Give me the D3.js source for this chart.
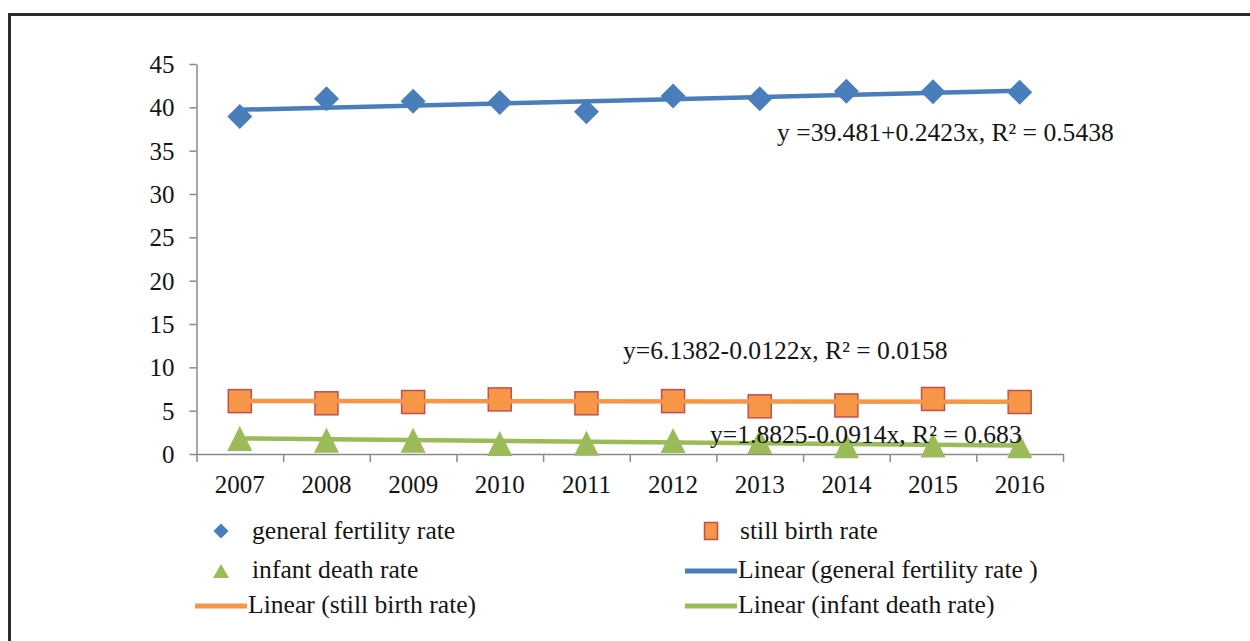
<!DOCTYPE html>
<html>
<head>
<meta charset="utf-8">
<script src="https://cdn.jsdelivr.net/npm/d3@7"></script>
<style>
  html, body { margin: 0; padding: 0; background: #fff; }
  svg { display: block; }
  text { font-family: "Liberation Serif", "Times New Roman", serif; fill: #151515; }
</style>
</head>
<body>
<svg id="chart" width="1250" height="641"></svg>
<script>
// ---- data ----
const years = ["2007","2008","2009","2010","2011","2012","2013","2014","2015","2016"];
const generalFertility = [38.95, 41.0, 40.7, 40.55, 39.5, 41.3, 41.0, 41.85, 41.8, 41.75];
const stillBirth = [6.1, 5.85, 6.0, 6.3, 5.85, 6.1, 5.5, 5.6, 6.35, 6.0];
const infantDeath = [1.8, 1.6, 1.6, 1.2, 1.25, 1.55, 1.45, 0.95, 1.05, 0.95];
const yTicks = [0, 5, 10, 15, 20, 25, 30, 35, 40, 45];
// trend lines: y = a + b*x, x = 1..10
const trendNames = ["general fertility rate", "still birth rate", "infant death rate"];
const trendIntercept = [39.481, 6.1382, 1.8825];
const trendSlope = [0.2423, -0.0122, -0.0914];
const trendLabels = [
  "y =39.481+0.2423x, R\u00B2 = 0.5438",
  "y=6.1382-0.0122x, R\u00B2 = 0.0158",
  "y=1.8825-0.0914x, R\u00B2 = 0.683"
];
const legendLabels = [
  "general fertility rate", "still birth rate",
  "infant death rate", "Linear (general fertility rate )",
  "Linear (still birth rate)", "Linear (infant death rate)"
];

(function () {
// ---- styles ----
const BLUE = "#4a7ebb", ORANGE = "#f79646", ORANGE_STROKE = "#c0504d", GREEN = "#9bbb59";
const AXIS = "#8a8a8a";
const FS_TICK = 25, FS_TEXT = 25.6;

const svg = d3.select("#chart");

// frame
svg.append("path")
  .attr("d", "M9.5,700 L9.5,14.5 L1300,14.5")
  .attr("fill", "none").attr("stroke", "#2b2b2b").attr("stroke-width", 3);

const pLeft = 196.5, pRight = 1063, pTop = 64, pBottom = 454;

const x = d3.scaleBand().domain(years).range([pLeft, pRight]).padding(0);
const xi = d3.scaleLinear().domain([0, years.length]).range([pLeft, pRight]);
const y = d3.scaleLinear().domain([0, 45]).range([pBottom, pTop]);

// y axis
const gy = svg.append("g").attr("transform", `translate(${pLeft},0)`)
  .call(d3.axisLeft(y).tickValues(yTicks).tickSize(7).tickPadding(15).tickSizeOuter(0));
gy.select(".domain").attr("stroke", AXIS).attr("stroke-width", 1.5);
gy.selectAll(".tick line").attr("stroke", AXIS).attr("stroke-width", 1.5);
gy.selectAll(".tick text").attr("font-size", FS_TICK).attr("fill", "#151515")
  .attr("font-family", '"Liberation Serif", serif').attr("dy", "0.34em");

// x axis: boundary ticks
const gx = svg.append("g").attr("transform", `translate(0,${pBottom})`)
  .call(d3.axisBottom(xi).tickValues(d3.range(years.length + 1)).tickFormat("").tickSize(8).tickSizeOuter(0));
gx.select(".domain").attr("stroke", AXIS).attr("stroke-width", 1.5);
gx.selectAll(".tick line").attr("stroke", AXIS).attr("stroke-width", 1.5);
// x axis: category labels
const gxl = svg.append("g").attr("transform", `translate(0,${pBottom})`)
  .call(d3.axisBottom(x).tickSize(0).tickPadding(21));
gxl.select(".domain").remove();
gxl.selectAll(".tick text").attr("font-size", FS_TICK).attr("fill", "#151515")
  .attr("font-family", '"Liberation Serif", serif');

const cx = d => x(d) + x.bandwidth() / 2;

// marker shapes
const diamondPath = (s) => `M0,${-s} L${s},0 L0,${s} L${-s},0 Z`;
const trianglePath = (w, h) => `M0,${-h/2} L${w/2},${h/2} L${-w/2},${h/2} Z`;

const plot = svg.append("g");

// diamonds
plot.selectAll(".gfr").data(generalFertility).join("path")
  .attr("d", diamondPath(12.5))
  .attr("transform", (d, i) => `translate(${cx(years[i])},${y(d)})`)
  .attr("fill", BLUE);

// squares
plot.selectAll(".sbr").data(stillBirth).join("rect")
  .attr("x", (d, i) => cx(years[i]) - 11.5).attr("y", d => y(d) - 11.5)
  .attr("width", 23).attr("height", 23)
  .attr("fill", ORANGE).attr("stroke", ORANGE_STROKE).attr("stroke-width", 1.5);

// triangles
plot.selectAll(".idr").data(infantDeath).join("path")
  .attr("d", trianglePath(25, 25))
  .attr("transform", (d, i) => `translate(${cx(years[i])},${y(d)})`)
  .attr("fill", GREEN);

// trend lines
const trendColors = [BLUE, ORANGE, GREEN];
const line = d3.line().x(d => d[0]).y(d => d[1]);
trendIntercept.forEach((a, k) => {
  const b = trendSlope[k];
  const pts = [1, years.length].map(t => [cx(years[t - 1]), y(a + b * t)]);
  plot.append("path").attr("d", line(pts))
    .attr("fill", "none").attr("stroke", trendColors[k]).attr("stroke-width", 4.5);
});

// equation labels
const eqPos = [[777, 141], [623, 359], [710, 443]];
trendLabels.forEach((t, k) => {
  svg.append("text").attr("x", eqPos[k][0]).attr("y", eqPos[k][1])
    .attr("font-size", FS_TEXT).text(t);
});

// legend
const leg = svg.append("g");
const L = [
  {type: "diamond", mx: 221, my: 531, tx: 252, ty: 539, color: BLUE},
  {type: "square", mx: 711, my: 531, tx: 740, ty: 539, color: ORANGE},
  {type: "triangle", mx: 221, my: 571, tx: 252, ty: 578, color: GREEN},
  {type: "line", mx: 711, my: 571, tx: 738, ty: 578, color: BLUE},
  {type: "line", mx: 221, my: 606, tx: 248, ty: 613, color: ORANGE},
  {type: "line", mx: 711, my: 606, tx: 738, ty: 613, color: GREEN}
];
L.forEach((e, i) => {
  if (e.type === "diamond") {
    leg.append("path").attr("d", diamondPath(7.5)).attr("transform", `translate(${e.mx},${e.my})`).attr("fill", e.color);
  } else if (e.type === "square") {
    leg.append("rect").attr("x", e.mx - 6.5).attr("y", e.my - 8.5).attr("width", 13).attr("height", 17)
      .attr("fill", ORANGE).attr("stroke", ORANGE_STROKE).attr("stroke-width", 1.5);
  } else if (e.type === "triangle") {
    leg.append("path").attr("d", trianglePath(16, 14)).attr("transform", `translate(${e.mx},${e.my})`).attr("fill", e.color);
  } else {
    leg.append("line").attr("x1", e.mx - 26).attr("x2", e.mx + 26).attr("y1", e.my).attr("y2", e.my)
      .attr("stroke", e.color).attr("stroke-width", 5);
  }
  leg.append("text").attr("x", e.tx).attr("y", e.ty).attr("font-size", FS_TEXT).text(legendLabels[i]);
});
})();
</script>
</body>
</html>
